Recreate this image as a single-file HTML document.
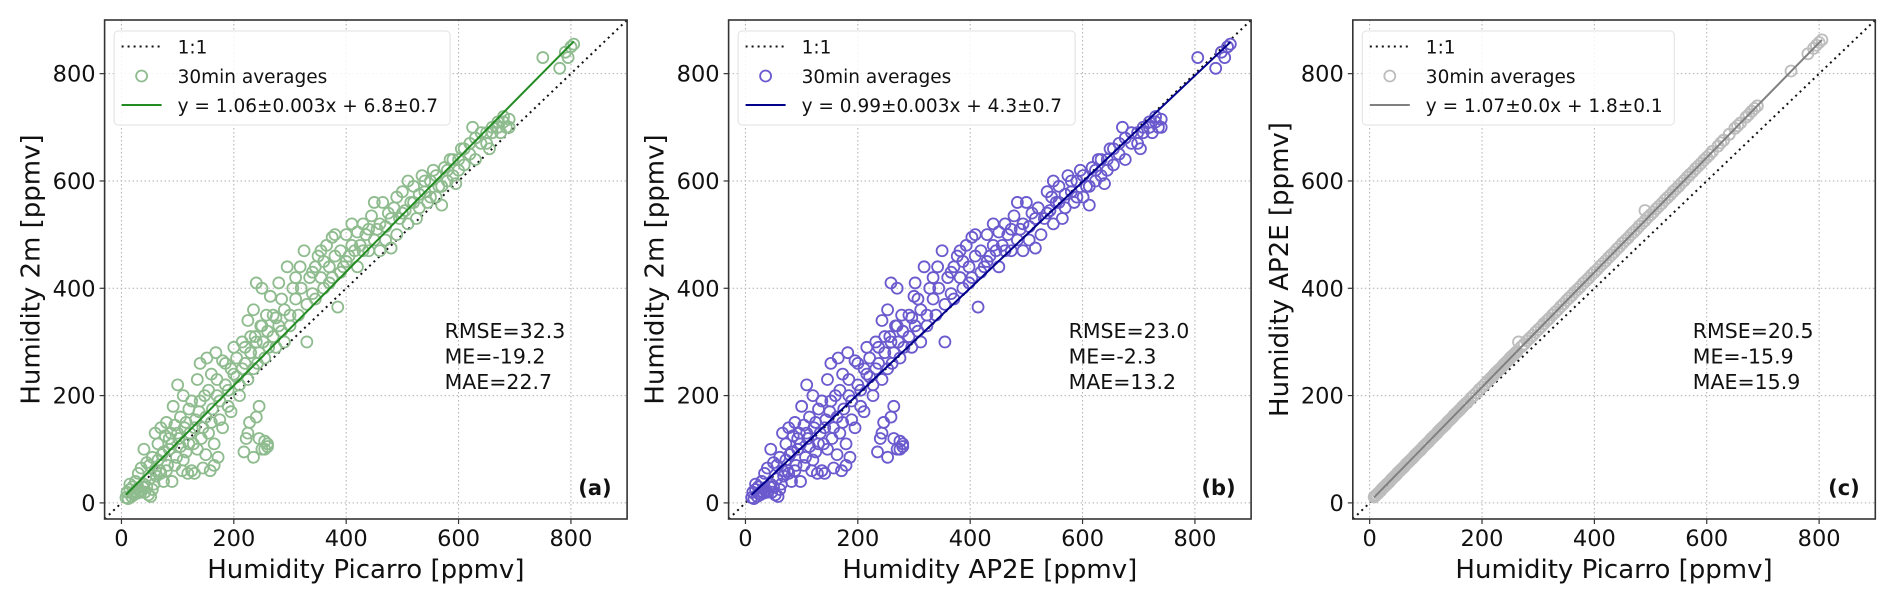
<!DOCTYPE html>
<html><head><meta charset="utf-8"><style>
html,body{margin:0;padding:0;background:#fff}
svg{display:block;font-family:"DejaVu Sans","Liberation Sans",sans-serif}
</style></head><body>
<svg id="fig" width="1892" height="592" viewBox="0 0 1892 592"></svg>
<script>
const picarro=[8,10,12,15,18,20,22,25,28,30,32,35,38,40,42,45,48,50,52,55,58,60,62,
65,68,70,72,75,78,80,82,85,88,90,92,95,98,100,102,105,108,110,112,115,118,120,122,125,128,130,132,135,138,140,142,145,148,150,152,155,158,160,162,165,168,170,172,175,
180,185,190,195,200,205,210,215,220,222,225,228,230,235,238,240,242,245,248,250,252,255,258,260,262,265,270,275,280,285,290,295,300,
218,225,235,240,245,250,255,260,
305,310,318,325,330,335,340,345,350,355,360,365,370,375,380,385,390,395,400,405,410,415,420,425,430,435,440,445,450,455,460,465,470,475,480,485,490,495,500,
505,510,515,520,525,530,535,540,545,550,555,560,565,570,575,580,585,590,595,600,605,610,620,625,630,640,650,655,660,670,675,680,685,690,
750,780,790,800,805,795,
15,20,25,30,35,40,45,50,55,60,65,70,75,80,85,90,95,100,105,110,115,120,125,130,135,140,145,150,155,160,
165,170,175,180,185,190,195,200,205,210,215,220,225,230,235,240,245,250,255,260,270,275,280,285,290,300,310,315,320,330,
340,345,355,360,370,375,380,390,400,410,420,430,440,450,460,470,480,490,500,510,520,530,540,550,560,570,580,590,600,610,
620,630,640,650,660,670,680,690];
const h2m=[10,20,8,25,12,30,15,40,18,55,22,65,30,100,20,75,15,45,12,85,35,130,50,
110,60,140,90,40,125,150,70,100,130,40,180,145,85,220,120,160,60,200,140,95,55,175,130,190,110,55,155,230,170,260,120,65,200,160,270,130,60,240,175,110,280,200,85,155,
265,220,180,250,290,235,200,300,260,120,340,150,280,360,310,410,260,180,330,400,300,100,350,110,290,385,310,345,410,320,360,440,350,
95,130,85,160,120,100,115,105,
400,380,440,470,300,420,390,440,460,420,450,480,410,495,460,365,470,440,500,460,520,470,505,480,520,500,470,535,560,510,470,560,515,540,475,550,570,530,580,
545,600,560,590,530,575,610,580,560,600,620,570,590,555,625,600,640,610,595,640,660,630,650,700,640,670,690,660,700,710,690,720,700,715,
830,810,840,850,855,830,
35,18,22,28,20,35,30,70,25,60,80,55,95,60,120,110,70,130,105,80,150,110,60,140,100,190,140,90,210,150,
70,230,190,140,260,210,170,240,270,220,250,290,230,310,250,300,280,330,270,320,350,290,330,380,300,330,420,350,400,370,
430,380,470,400,440,420,500,430,450,480,440,470,510,490,520,490,530,500,540,520,560,550,600,570,610,590,620,640,620,660,
670,680,690,670,690,700,710,700];
const ap2e=[11,13,15,18,21,23,26,29,32,34,36,39,43,45,47,50,53,56,58,61,64,66,68,
72,75,77,79,82,85,88,90,93,96,98,100,104,107,109,111,114,118,120,122,125,128,130,133,136,139,141,143,146,150,152,154,157,160,163,165,168,171,173,175,179,182,184,186,189,
195,200,205,211,216,221,227,232,237,240,243,246,248,253,257,259,261,264,267,270,272,275,278,280,282,300,291,296,302,307,312,318,323,
235,243,253,259,264,270,275,280,
328,334,342,350,355,360,366,371,377,382,387,393,398,403,409,414,419,425,430,435,441,446,451,457,462,467,473,478,484,489,494,500,505,510,516,521,545,532,537,
542,548,553,558,564,569,574,580,585,590,596,601,607,612,617,623,628,633,639,644,649,655,665,671,676,687,698,703,708,719,724,730,735,740,
805,837,847,858,863,853,
18,23,29,34,39,45,50,56,61,66,72,77,82,88,93,98,104,109,114,120,125,130,136,141,146,152,157,163,168,173,
179,184,189,195,200,205,211,216,221,227,232,237,243,248,253,259,264,270,275,280,291,296,302,307,312,323,334,339,344,355,
366,371,382,387,398,403,409,419,430,441,451,462,473,484,494,505,516,526,537,548,558,569,580,590,601,612,623,633,644,655,
665,676,687,698,708,719,730,740];
const ticks=[0,200,400,600,800];
const tickLabels=["0","200","400","600","800"];

const NS="http://www.w3.org/2000/svg";
const svg=document.getElementById('fig');
const TOP=20,H=499,W=522.5,MIN=-30,MAX=900;
function mk(tag,attrs,parent){const e=document.createElementNS(NS,tag);for(const k in attrs)e.setAttribute(k,attrs[k]);(parent||svg).appendChild(e);return e;}

const panels=[
 {left:104.6,xs:picarro,ys:h2m,mc:"#8fbc8f",lc:"#228b22",slope:1.06,icpt:6.8,eq:"y = 1.06±0.003x + 6.8±0.7",stats:["RMSE=32.3","ME=-19.2","MAE=22.7"],lab:"(a)",xl:"Humidity Picarro [ppmv]",yl:"Humidity 2m [ppmv]",lw:336},
 {left:728.6,xs:ap2e,ys:h2m,mc:"#6a5acd",lc:"#00008b",slope:0.99,icpt:4.3,eq:"y = 0.99±0.003x + 4.3±0.7",stats:["RMSE=23.0","ME=-2.3","MAE=13.2"],lab:"(b)",xl:"Humidity AP2E [ppmv]",yl:"Humidity 2m [ppmv]",lw:337},
 {left:1352.8,xs:picarro,ys:ap2e,mc:"#bdbdbd",lc:"#808080",slope:1.07,icpt:1.8,eq:"y = 1.07±0.0x + 1.8±0.1",stats:["RMSE=20.5","ME=-15.9","MAE=15.9"],lab:"(c)",xl:"Humidity Picarro [ppmv]",yl:"Humidity AP2E [ppmv]",lw:312}
];

panels.forEach((p,pi)=>{
 const L=p.left;
 const X=v=>L+(v-MIN)/(MAX-MIN)*W;
 const Y=v=>TOP+H-(v-MIN)/(MAX-MIN)*H;
 const g=mk('g',{});
 
 
 const clip=mk('clipPath',{id:'clip'+pi},g);
 mk('rect',{x:L,y:TOP,width:W,height:H},clip);
 ticks.forEach((t,i)=>{
  const gx=mk('line',{x1:X(t),x2:X(t),y1:TOP,y2:TOP+H,stroke:"#b0b0b0","stroke-width":1,"stroke-dasharray":"1.5,2.5"},g);
  
  
  const gy=mk('line',{x1:L,x2:L+W,y1:Y(t),y2:Y(t),stroke:"#b0b0b0","stroke-width":1,"stroke-dasharray":"1.5,2.5"},g);
  
  
  mk('line',{x1:X(t),x2:X(t),y1:TOP+H,y2:TOP+H+5,stroke:"#333","stroke-width":1.2},g);
  mk('line',{x1:L-5,x2:L,y1:Y(t),y2:Y(t),stroke:"#333","stroke-width":1.2},g);
  const xt=mk('text',{x:X(t),y:TOP+H+27,"text-anchor":"middle","font-size":22.5,fill:"#111"},g);
  xt.textContent=tickLabels[i];
  
  
  const yt=mk('text',{x:L-9,y:Y(t)+8,"text-anchor":"end","font-size":22.5,fill:"#111"},g);
  yt.textContent=tickLabels[i];
  
  
 });
 const inner=mk('g',{"clip-path":"url(#clip"+pi+")"},g);
 const one=mk('line',{x1:X(MIN),y1:Y(MIN),x2:X(MAX),y2:Y(MAX),stroke:"#111","stroke-width":2,"stroke-dasharray":"2,4"},inner);
 
 
 for(let i=0;i<p.xs.length;i++){
  const c=mk('circle',{cx:X(p.xs[i]),cy:Y(p.ys[i]),r:5.5,fill:"none",stroke:p.mc,"stroke-width":1.8},inner);
  
  
 }
 const xmin=Math.min(...p.xs),xmax=Math.max(...p.xs);
 const fit=mk('line',{x1:X(xmin),y1:Y(p.slope*xmin+p.icpt),x2:X(xmax),y2:Y(p.slope*xmax+p.icpt),stroke:p.lc,"stroke-width":2},inner);
 
 
 const fr=mk('rect',{x:L,y:TOP,width:W,height:H,fill:"none",stroke:"#333","stroke-width":1.6},g);
 
 
 const lg=mk('g',{},g);
 
 
 mk('rect',{x:L+9.5,y:31,width:p.lw,height:94,rx:4,fill:"#fff","fill-opacity":0.85,stroke:"#e0e0e0","stroke-width":1},lg);
 mk('line',{x1:L+17,x2:L+57,y1:46.5,y2:46.5,stroke:"#111","stroke-width":2,"stroke-dasharray":"2,4"},lg);
 mk('circle',{cx:L+37,cy:76,r:5.5,fill:"none",stroke:p.mc,"stroke-width":1.8},lg);
 mk('line',{x1:L+17,x2:L+57,y1:105,y2:105,stroke:p.lc,"stroke-width":2},lg);
 [["1:1",46.5],["30min averages",76],[p.eq,105]].forEach(([t,yy])=>{
  const e=mk('text',{x:L+73,y:yy+7,"font-size":18.5,fill:"#111"},lg);
  e.textContent=t;
  
  
 });
 p.stats.forEach((s,i)=>{
  const e=mk('text',{x:L+340,y:338+i*25.5,"font-size":20.5,fill:"#111"},g);
  e.textContent=s;
  
  
 });
 const pl=mk('text',{x:L+507,y:495,"text-anchor":"end","font-size":21,"font-weight":"bold",fill:"#111"},g);
 pl.textContent=p.lab;
 
 
 const xl=mk('text',{x:L+W/2,y:578,"text-anchor":"middle","font-size":26,fill:"#111"},g);
 xl.textContent=p.xl;
 
 
 const yl=mk('text',{x:0,y:0,"text-anchor":"middle","font-size":26,fill:"#111",transform:"translate("+(L-65)+","+(TOP+H/2)+") rotate(-90)"},g);
 yl.textContent=p.yl;
 
 
});
</script>
</body></html>
